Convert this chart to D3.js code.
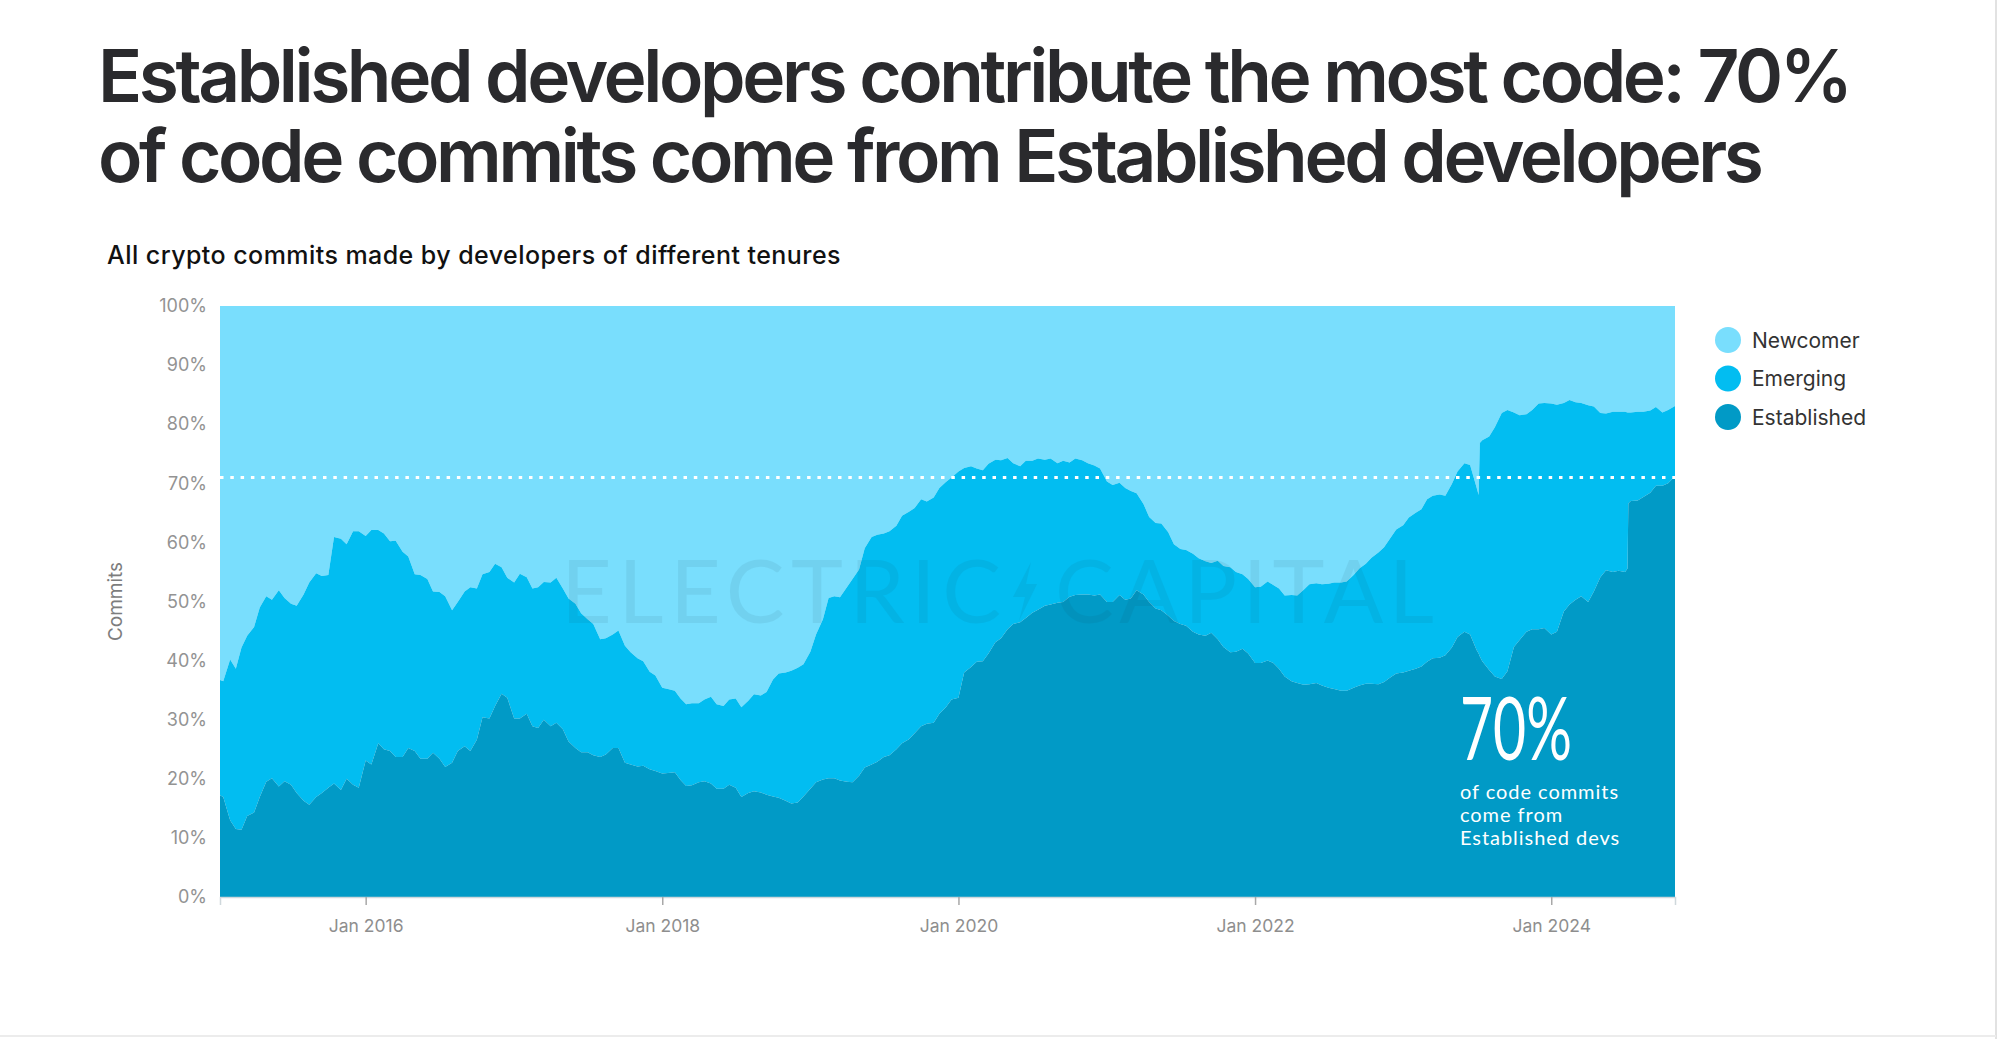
<!DOCTYPE html>
<html><head><meta charset="utf-8">
<script src="https://cdn.jsdelivr.net/npm/d3@7"></script>
<style>
html,body{margin:0;padding:0;background:#fff;}
body{position:relative;width:2000px;height:1039px;overflow:hidden;}
svg{display:block;position:absolute;left:0;top:0;}
.title-block{position:absolute;left:98px;top:35.5px;line-height:80px;white-space:pre;
  font-family:Inter,'Noto Sans',sans-serif;font-weight:600;font-size:73px;color:#2a2a2d;}
.measure{position:absolute;left:-5000px;top:0;white-space:pre;
  font-family:Inter,'Noto Sans',sans-serif;font-weight:600;font-size:73px;}
</style></head>
<body>
<svg id="chart" width="2000" height="1039"></svg>
<script>
// ---------------- DATA ----------------
const dates = [
"2015-01-07","2015-01-15","2015-02-01","2015-02-15","2015-03-01","2015-03-15","2015-04-01","2015-04-15","2015-05-01","2015-05-15","2015-06-01","2015-06-15",
"2015-07-01","2015-07-15","2015-08-01","2015-08-15","2015-09-01","2015-09-15","2015-10-01","2015-10-15","2015-11-01","2015-11-15","2015-12-01","2015-12-15",
"2016-01-01","2016-01-15","2016-02-01","2016-02-15","2016-03-01","2016-03-15","2016-04-01","2016-04-15","2016-05-01","2016-05-15","2016-06-01","2016-06-15",
"2016-07-01","2016-07-15","2016-08-01","2016-08-15","2016-09-01","2016-09-15","2016-10-01","2016-10-15","2016-11-01","2016-11-15","2016-12-01","2016-12-15",
"2017-01-01","2017-01-15","2017-02-01","2017-02-15","2017-03-01","2017-03-15","2017-04-01","2017-04-15","2017-05-01","2017-05-15","2017-06-01","2017-06-15",
"2017-07-01","2017-07-15","2017-08-01","2017-08-15","2017-09-01","2017-09-15","2017-10-01","2017-10-15","2017-11-01","2017-11-15","2017-12-01","2017-12-15",
"2018-01-01","2018-01-15","2018-02-01","2018-02-15","2018-03-01","2018-03-15","2018-04-01","2018-04-15","2018-05-01","2018-05-15","2018-06-01","2018-06-15",
"2018-07-01","2018-07-15","2018-08-01","2018-08-15","2018-09-01","2018-09-15","2018-10-01","2018-10-15","2018-11-01","2018-11-15","2018-12-01","2018-12-15",
"2019-01-01","2019-01-15","2019-02-01","2019-02-15","2019-03-01","2019-03-15","2019-04-01","2019-04-15","2019-05-01","2019-05-15","2019-06-01","2019-06-15",
"2019-07-01","2019-07-15","2019-08-01","2019-08-15","2019-09-01","2019-09-15","2019-10-01","2019-10-15","2019-11-01","2019-11-15","2019-12-01","2019-12-15",
"2020-01-01","2020-01-15","2020-02-01","2020-02-15","2020-03-01","2020-03-15","2020-04-01","2020-04-15","2020-05-01","2020-05-15","2020-06-01","2020-06-15",
"2020-07-01","2020-07-15","2020-08-01","2020-08-15","2020-09-01","2020-09-15","2020-10-01","2020-10-15","2020-11-01","2020-11-15","2020-12-01","2020-12-15",
"2021-01-01","2021-01-15","2021-02-01","2021-02-15","2021-03-01","2021-03-15","2021-04-01","2021-04-15","2021-05-01","2021-05-15","2021-06-01","2021-06-15",
"2021-07-01","2021-07-15","2021-08-01","2021-08-15","2021-09-01","2021-09-15","2021-10-01","2021-10-15","2021-11-01","2021-11-15","2021-12-01","2021-12-15",
"2022-01-01","2022-01-15","2022-02-01","2022-02-15","2022-03-01","2022-03-15","2022-04-01","2022-04-15","2022-05-01","2022-05-15","2022-06-01","2022-06-15",
"2022-07-01","2022-07-15","2022-08-01","2022-08-15","2022-09-01","2022-09-15","2022-10-01","2022-10-15","2022-11-01","2022-11-15","2022-12-01","2022-12-15",
"2023-01-01","2023-01-15","2023-02-01","2023-02-15","2023-03-01","2023-03-15","2023-04-01","2023-04-15","2023-05-01","2023-05-15","2023-06-01","2023-06-15",
"2023-07-01","2023-07-06","2023-07-09","2023-07-15","2023-08-01","2023-08-15","2023-09-01","2023-09-15","2023-10-01","2023-10-15","2023-11-01","2023-11-15","2023-12-01","2023-12-15",
"2024-01-01","2024-01-15","2024-02-01","2024-02-15","2024-03-01","2024-03-15","2024-04-01","2024-04-15","2024-05-01","2024-05-15","2024-06-01","2024-06-15",
"2024-07-01","2024-07-07","2024-07-09","2024-07-15","2024-08-01","2024-08-15","2024-09-01","2024-09-15","2024-10-01","2024-10-15","2024-11-01"
];

// share of commits (%) by tenure
const established = [
17.2,16.9,13.0,11.5,11.4,13.7,14.3,16.9,19.5,20.1,18.7,19.6,19.0,17.6,16.3,15.6,16.9,17.6,18.5,19.2,18.1,20.0,19.0,18.5,23.1,22.4,26.0,25.0,24.7,23.7,23.7,25.2,24.7,23.4,23.4,24.4,23.4,22.0,22.7,24.7,
25.5,24.7,26.6,30.4,30.2,32.3,34.4,33.7,30.2,30.2,31.0,28.9,28.6,30.0,28.9,29.5,28.4,26.3,25.2,24.5,24.5,24.0,23.7,24.1,25.2,25.2,22.7,22.4,22.1,22.2,21.6,21.3,20.9,21.0,21.1,19.8,18.8,18.9,19.4,19.6,
19.2,18.3,18.3,19.0,18.5,16.9,17.6,17.9,17.7,17.3,17.0,16.8,16.3,15.8,16.0,17.0,18.3,19.4,19.9,20.1,20.1,19.7,19.5,19.4,20.5,21.9,22.4,22.9,23.7,24.0,25.0,26.0,26.7,27.7,28.9,29.3,29.5,31.0,32.1,33.4,
33.7,38.0,38.9,39.8,39.9,41.2,43.1,43.8,45.3,46.2,46.5,47.2,48.1,48.6,49.3,49.5,49.8,49.9,50.8,51.1,51.2,51.2,51.0,51.2,49.9,49.9,51.1,50.3,50.5,51.9,51.2,49.9,48.8,48.5,47.6,46.7,46.2,45.9,
44.9,44.4,44.2,44.7,43.6,42.3,41.4,41.5,42.0,41.2,39.6,39.6,40.0,39.6,38.6,37.3,36.5,36.2,35.9,36.0,36.2,35.8,35.4,35.2,34.9,34.9,35.4,35.8,36.1,36.1,36.0,36.4,37.2,37.8,38.0,38.3,38.6,39.0,39.8,40.4,
40.5,40.9,42.2,44.0,44.9,44.4,41.8,41.2,40.7,
39.9,38.4,37.3,36.9,38.2,42.3,43.5,44.9,45.3,45.3,45.5,44.4,44.9,48.3,49.5,50.3,50.9,49.9,51.7,54.1,55.3,55.0,55.2,55.0,55.6,66.6,
67.0,67.1,67.7,68.4,69.6,69.6,70.0,71.2
];
const emerging = [
19.5,19.6,27.2,27.1,30.8,30.5,31.4,32.1,31.4,30.2,33.2,31.0,30.6,31.7,34.9,37.6,37.9,36.7,36.0,41.7,42.5,39.7,42.9,43.4,38.0,39.7,36.1,36.5,35.5,36.6,34.7,32.4,29.9,31.1,30.4,27.3,28.2,28.9,25.8,25.2,
26.2,27.7,25.6,24.2,24.8,24.1,21.4,20.3,23.0,24.5,23.1,23.3,23.8,23.3,24.3,24.5,23.8,24.2,24.4,23.5,22.5,22.2,19.9,19.7,19.2,19.9,19.8,19.0,18.3,17.7,16.5,16.2,14.5,14.2,13.8,13.8,13.8,13.9,13.4,13.8,
14.7,14.3,14.0,14.4,15.1,15.2,15.6,16.4,16.4,17.4,19.8,21.0,21.7,22.5,22.8,22.4,23.2,25.0,27.1,30.5,30.8,31.0,32.9,34.4,34.9,37.1,38.5,38.4,37.8,37.9,37.8,38.5,38.5,38.1,38.4,37.6,38.1,38.2,38.1,37.6,
38.3,34.6,34.0,32.7,32.3,32.1,30.9,30.1,29.0,27.2,26.4,26.6,25.7,25.6,24.7,24.7,23.6,23.9,22.7,23.1,22.7,22.2,22.0,21.3,20.4,19.8,19.0,18.9,18.2,16.4,15.3,14.4,14.5,14.7,14.1,13.0,12.7,12.8,
13.2,12.9,12.6,11.8,13.3,13.7,14.4,13.5,12.6,12.6,12.8,12.9,13.4,13.2,13.6,13.7,14.6,14.8,16.1,16.9,16.9,17.1,17.6,18.0,18.3,18.5,19.1,19.8,20.3,21.3,22.3,22.8,23.6,24.4,24.9,25.9,26.4,26.6,27.5,27.5,
27.6,27.0,27.7,28.0,28.5,28.7,27.5,26.8,36.1,
37.4,39.5,42.2,45.0,44.2,39.7,38.0,36.8,37.1,38.2,38.1,39.1,38.4,35.3,34.6,33.4,32.7,33.3,31.3,27.8,26.5,27.1,26.9,27.1,26.4,15.4,
15.0,15.0,14.4,13.9,13.3,12.4,12.4,11.9
];
const newcomer = [
63.3,63.5,59.8,61.4,57.8,55.8,54.3,51.0,49.1,49.7,48.1,49.4,50.4,50.7,48.8,46.8,45.2,45.7,45.5,39.1,39.4,40.3,38.1,38.1,38.9,37.9,37.9,38.5,39.8,39.7,41.6,42.4,45.4,45.5,46.2,48.3,48.4,49.1,51.5,50.1,
48.3,47.6,47.8,45.4,45.0,43.6,44.2,46.0,46.8,45.3,45.9,47.8,47.6,46.7,46.8,46.0,47.8,49.5,50.4,52.0,53.0,53.8,56.4,56.2,55.6,54.9,57.5,58.6,59.6,60.1,61.9,62.5,64.6,64.8,65.1,66.4,67.4,67.2,67.2,66.6,
66.1,67.4,67.7,66.6,66.4,67.9,66.8,65.7,65.9,65.3,63.2,62.2,62.0,61.7,61.2,60.6,58.5,55.6,53.0,49.4,49.1,49.3,47.6,46.2,44.6,41.0,39.1,38.7,38.5,38.1,37.2,35.5,34.8,34.2,32.7,33.1,32.4,30.8,29.8,29.0,
28.0,27.4,27.1,27.5,27.8,26.7,26.0,26.1,25.7,26.6,27.1,26.2,26.2,25.8,26.0,25.8,26.6,26.2,26.5,25.8,26.1,26.6,27.0,27.5,29.7,30.3,29.9,30.8,31.3,31.7,33.5,35.7,36.7,36.8,38.3,40.3,41.1,41.3,
41.9,42.7,43.2,43.5,43.1,44.0,44.2,45.0,45.4,46.2,47.6,47.5,46.6,47.2,47.8,49.0,48.9,49.0,48.0,47.1,46.9,47.1,47.0,46.8,46.8,46.6,45.5,44.4,43.6,42.6,41.7,40.8,39.2,37.8,37.1,35.8,35.0,34.4,32.7,32.1,
31.9,32.1,30.1,28.0,26.6,26.9,30.7,32.0,23.2,
22.7,22.1,20.5,18.1,17.6,18.0,18.5,18.3,17.6,16.5,16.4,16.5,16.7,16.4,15.9,16.3,16.4,16.8,17.0,18.1,18.2,17.9,17.9,17.9,18.0,18.0,
18.0,17.9,17.9,17.7,17.1,18.0,17.6,16.9
];

const seriesNames = ["Newcomer", "Emerging", "Established"];
const seriesColors = {"Newcomer": "#79DEFD", "Emerging": "#02BDF1", "Established": "#019AC6"};
const yTickValues = [0, 10, 20, 30, 40, 50, 60, 70, 80, 90, 100];
const xTickDates = ["2016-01-01", "2018-01-01", "2020-01-01", "2022-01-01", "2024-01-01"];
const xTickLabels = ["Jan 2016", "Jan 2018", "Jan 2020", "Jan 2022", "Jan 2024"];
const referenceLevel = 71;

const titleLines = ["Established developers contribute the most code: 70%", "of code commits come from Established developers"];
const subtitle = "All crypto commits made by developers of different tenures";
const yAxisTitle = "Commits";
const calloutBig = "70%";
const calloutLines = ["of code commits", "come from", "Established devs"];

// ---------------- CHART ----------------
const svg = d3.select("#chart");
const parse = d3.timeParse("%Y-%m-%d");
const rows = dates.map((d, i) => ({
  date: parse(d),
  Established: established[i],
  Emerging: emerging[i],
  Newcomer: newcomer[i]
}));

const M = {left: 220, right: 1675, top: 306, bottom: 897};
const x = d3.scaleTime().domain([rows[0].date, rows[rows.length - 1].date]).range([M.left, M.right]);
const y = d3.scaleLinear().domain([0, 100]).range([M.bottom, M.top]);

// frame lines of the screenshot
svg.append("line").attr("x1", 1996).attr("x2", 1996).attr("y1", 0).attr("y2", 1039)
  .attr("stroke", "#e2e2e2").attr("stroke-width", 2);
svg.append("line").attr("x1", 0).attr("x2", 1996).attr("y1", 1036).attr("y2", 1036)
  .attr("stroke", "#ececec").attr("stroke-width", 2);

function fitWidth(sel, target) {
  const w = sel.node().getComputedTextLength();
  const n = sel.text().length;
  const ls = (target - w) / n;
  sel.attr("letter-spacing", ls.toFixed(3) + "px");
  return ls;
}

// Title: a single text block of two lines (80px line boxes, baselines ~102 and ~182)
const titleTargets = [1752, 1662];
const spacings = titleLines.map((t, i) => {
  const m = d3.select("body").append("span").attr("class", "measure").text(t);
  const w = m.node().getBoundingClientRect().width;
  m.remove();
  return (titleTargets[i] - w) / t.length;
});
d3.select("body").append("div")
  .attr("class", "title-block")
  .style("letter-spacing", d3.mean(spacings).toFixed(3) + "px")
  .text(titleLines.join("\n"));

const st = svg.append("text")
  .attr("x", 107).attr("y", 264)
  .attr("font-family", "Inter, 'Noto Sans', sans-serif")
  .attr("font-weight", 500)
  .attr("font-size", 25)
  .attr("fill", "#111")
  .text(subtitle);
fitWidth(st, 734);

// Stacked areas
const keys = ["Established", "Emerging", "Newcomer"];
const stacked = d3.stack().keys(keys)(rows);
const area = d3.area()
  .x(d => x(d.data.date))
  .y0(d => y(d[0]))
  .y1(d => y(d[1]))
  .curve(d3.curveLinear);

const plot = svg.append("g");
plot.selectAll("path.layer")
  .data(stacked.slice().reverse())
  .join("path")
  .attr("class", "layer")
  .attr("fill", d => seriesColors[d.key])
  .attr("d", area);

// Watermark
const wm = svg.append("g").attr("fill", "#12394a").attr("opacity", 0.07)
  .attr("font-family", "Lato, 'Open Sans', sans-serif").attr("font-weight", 400).attr("font-size", 88);
wm.append("text").attr("x", 561).attr("y", 623).attr("textLength", 440).attr("lengthAdjust", "spacing").text("ELECTRIC");
wm.append("text").attr("x", 1055).attr("y", 623).attr("textLength", 379).attr("lengthAdjust", "spacing").text("CAPITAL");
wm.append("path").attr("d", "M1031,562 L1013,597 L1025,597 L1019,621 L1037,584 L1026,584 Z");

// Reference dotted line
svg.append("line")
  .attr("x1", M.left).attr("x2", M.right)
  .attr("y1", y(referenceLevel)).attr("y2", y(referenceLevel))
  .attr("stroke", "#ffffff").attr("stroke-width", 3)
  .attr("stroke-dasharray", "3.5,6.8");

// Y axis
const yAxis = svg.append("g").attr("transform", `translate(${M.left},0)`)
  .call(d3.axisLeft(y).tickValues(yTickValues).tickFormat(d => d + "%").tickSize(0).tickPadding(13));
yAxis.select(".domain").remove();
yAxis.selectAll("text")
  .attr("font-family", "Inter, 'Noto Sans', sans-serif")
  .attr("font-size", 18).attr("fill", "#939393");

svg.append("text")
  .attr("transform", `translate(122,${(M.top + M.bottom) / 2}) rotate(-90)`)
  .attr("text-anchor", "middle")
  .attr("font-family", "Inter, 'Noto Sans', sans-serif")
  .attr("font-size", 19).attr("fill", "#7d7d7d")
  .text(yAxisTitle);

// X axis
const xAxis = svg.append("g").attr("transform", `translate(0,${M.bottom})`)
  .call(d3.axisBottom(x).tickValues(xTickDates.map(parse)).tickFormat((d, i) => xTickLabels[i]).tickSize(8).tickPadding(15));
xAxis.select(".domain").attr("stroke", "#cfd8dc").attr("stroke-width", 1.5);
xAxis.selectAll(".tick line").attr("stroke", "#a8a8a8").attr("stroke-width", 1.5);
xAxis.selectAll("text")
  .attr("font-family", "Inter, 'Noto Sans', sans-serif")
  .attr("font-size", 17.5).attr("fill", "#8e8e8e");

// Legend
const legend = svg.append("g");
seriesNames.forEach((name, i) => {
  const gy = 340 + i * 38.5;
  legend.append("circle").attr("cx", 1728).attr("cy", gy).attr("r", 13).attr("fill", seriesColors[name]);
  legend.append("text").attr("x", 1752).attr("y", gy + 7.5)
    .attr("font-family", "Inter, 'Noto Sans', sans-serif")
    .attr("font-size", 21).attr("fill", "#333")
    .text(name);
});

// Callout
const big = svg.append("text")
  .attr("font-family", "Lato, 'Noto Sans', sans-serif")
  .attr("font-weight", 400)
  .attr("font-size", 88)
  .attr("fill", "#fff")
  .text(calloutBig);
const bw = big.node().getComputedTextLength();
big.attr("transform", `translate(1460,760) scale(${112 / bw},1)`);

let calloutSpacing = null;
calloutLines.forEach((t, i) => {
  const tx = svg.append("text")
    .attr("x", 1460).attr("y", 799 + i * 23)
    .attr("font-family", "Lato, 'Noto Sans', sans-serif")
    .attr("font-weight", 400)
    .attr("font-size", 20)
    .attr("fill", "#fff")
    .text(t);
  if (calloutSpacing === null) calloutSpacing = fitWidth(tx, 159);
  else tx.attr("letter-spacing", calloutSpacing.toFixed(3) + "px");
});
</script>
</body></html>
